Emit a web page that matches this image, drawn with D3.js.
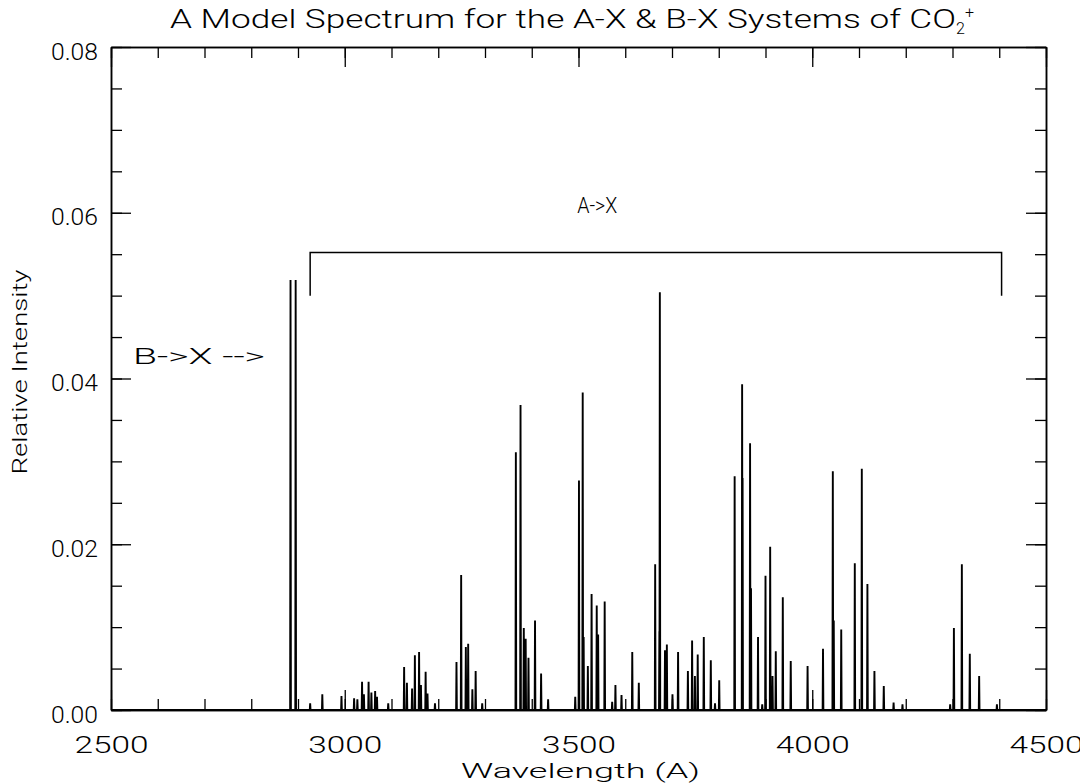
<!DOCTYPE html>
<html>
<head>
<meta charset="utf-8">
<script src="https://cdn.jsdelivr.net/npm/d3@7"></script>
<style>
  body { margin: 0; background: #fff; }
  text { font-family: Roboto, "Liberation Sans", sans-serif; font-weight: 300; fill: #000; }
</style>
</head>
<body>
<script>
// line positions (Angstrom) and relative intensities
var wavelengths = [2884, 2895, 2926, 2952, 2993, 3020, 3027, 3037, 3041, 3051, 3057, 3065, 3069, 3093,
  3127, 3133, 3144, 3150, 3159, 3163, 3173, 3177, 3193, 3239, 3249, 3259, 3264, 3273, 3280, 3294,
  3366, 3376, 3383, 3387, 3393, 3407, 3420, 3435, 3493, 3501, 3509, 3511, 3520, 3528, 3539, 3542,
  3556, 3572, 3579, 3592, 3615, 3629, 3664, 3673, 3674, 3685, 3689, 3701, 3713, 3734, 3743, 3749,
  3755, 3768, 3783, 3792, 3801, 3834, 3850, 3851, 3867, 3869, 3884, 3893, 3900, 3910, 3915, 3922,
  3937, 3954, 3990, 4023, 4044, 4046, 4062, 4091, 4106, 4118, 4133, 4153, 4174, 4193, 4295, 4303,
  4320, 4337, 4357, 4395];
var intensities = [0.0519, 0.0519, 0.0008, 0.0019, 0.0017, 0.0014, 0.0013, 0.0034, 0.0019, 0.0034, 0.0021, 0.0023, 0.0016, 0.0008,
  0.0052, 0.0033, 0.0026, 0.0066, 0.0070, 0.0030, 0.0046, 0.0020, 0.0008, 0.0058, 0.0163, 0.0076, 0.0080, 0.0025, 0.0047, 0.0008,
  0.0311, 0.0368, 0.0099, 0.0086, 0.0063, 0.0108, 0.0044, 0.0013, 0.0016, 0.0277, 0.0383, 0.0088, 0.0053, 0.0140, 0.0126, 0.0091,
  0.0131, 0.0010, 0.0030, 0.0018, 0.0070, 0.0033, 0.0176, 0.0095, 0.0504, 0.0072, 0.0079, 0.0019, 0.0070, 0.0047, 0.0084, 0.0041,
  0.0067, 0.0088, 0.0060, 0.0008, 0.0036, 0.0282, 0.0393, 0.0280, 0.0322, 0.0147, 0.0088, 0.0007, 0.0162, 0.0197, 0.0041, 0.0071,
  0.0136, 0.0059, 0.0053, 0.0074, 0.0288, 0.0108, 0.0097, 0.0177, 0.0291, 0.0152, 0.0047, 0.0029, 0.0009, 0.0007, 0.0007, 0.0099,
  0.0176, 0.0068, 0.0041, 0.0007];

var xTicks = [2500, 3000, 3500, 4000, 4500];
var yTicks = [0, 0.02, 0.04, 0.06, 0.08];
// A->X bracket: start, end wavelength, top and foot heights
var bracketX = [2926, 4405];
var bracketY = [0.0552, 0.0500];

var W = 1080, H = 783;
var margin = {top: 47, right: 34, bottom: 73, left: 111};
var width = W - margin.left - margin.right;
var height = H - margin.top - margin.bottom;

var svg = d3.select("body").append("svg")
  .attr("width", W)
  .attr("height", H);

var g = svg.append("g")
  .attr("transform", "translate(" + margin.left + "," + margin.top + ")");

var x = d3.scaleLinear().domain([2500, 4500]).range([0, width]);
var y = d3.scaleLinear().domain([0, 0.08]).range([height, 0]);

var minorX = d3.range(2500, 4501, 100);
var minorY = d3.range(0, 0.0801, 0.005);

// spectrum as one path of narrow spikes
var pts = [[2500, 0]];
wavelengths.forEach(function(w, i) {
  pts.push([w - 0.8, 0], [w, intensities[i]], [w + 0.8, 0]);
});
pts.push([4500, 0]);

g.append("path")
  .datum(pts)
  .attr("fill", "none")
  .attr("stroke", "#000")
  .attr("stroke-width", 1.9)
  .attr("d", d3.line().x(function(d){ return x(d[0]); }).y(function(d){ return y(d[1]); }));

// axes, ticks pointing inward on all four sides
function styleAxis(sel) {
  sel.selectAll("path.domain").attr("stroke", "#000").attr("stroke-width", 1.5);
  sel.selectAll(".tick line").attr("stroke", "#000").attr("stroke-width", 1.3);
}

var bottom = g.append("g").attr("transform", "translate(0," + height + ")")
  .call(d3.axisBottom(x).tickValues(xTicks).tickSizeInner(-20).tickSizeOuter(0)
    .tickPadding(26).tickFormat(d3.format("d")));
bottom.selectAll("text").attr("font-size", 24).attr("textLength", 74).attr("lengthAdjust", "spacingAndGlyphs");
styleAxis(bottom);
styleAxis(g.append("g").attr("transform", "translate(0," + height + ")")
  .call(d3.axisBottom(x).tickValues(minorX).tickSizeInner(-11).tickSizeOuter(0).tickFormat("")));

styleAxis(g.append("g")
  .call(d3.axisTop(x).tickValues(xTicks).tickSizeInner(-20).tickSizeOuter(0).tickFormat("")));
styleAxis(g.append("g")
  .call(d3.axisTop(x).tickValues(minorX).tickSizeInner(-11).tickSizeOuter(0).tickFormat("")));

var left = g.append("g")
  .call(d3.axisLeft(y).tickValues(yTicks).tickSizeInner(-20).tickSizeOuter(0)
    .tickPadding(13).tickFormat(d3.format(".2f")));
left.selectAll("text").attr("font-size", 24).attr("dy", "0.5em")
  .attr("textLength", 47).attr("lengthAdjust", "spacingAndGlyphs");
styleAxis(left);
styleAxis(g.append("g")
  .call(d3.axisLeft(y).tickValues(minorY).tickSizeInner(-11).tickSizeOuter(0).tickFormat("")));

styleAxis(g.append("g").attr("transform", "translate(" + width + ",0)")
  .call(d3.axisRight(y).tickValues(yTicks).tickSizeInner(-20).tickSizeOuter(0).tickFormat("")));
styleAxis(g.append("g").attr("transform", "translate(" + width + ",0)")
  .call(d3.axisRight(y).tickValues(minorY).tickSizeInner(-11).tickSizeOuter(0).tickFormat("")));

g.selectAll(".tick text").attr("font-family", "Roboto, 'Liberation Sans', sans-serif").attr("fill", "#000");

// A->X bracket
g.append("path")
  .attr("fill", "none")
  .attr("stroke", "#000")
  .attr("stroke-width", 1.5)
  .attr("d", d3.line()([
    [x(bracketX[0]), y(bracketY[1])],
    [x(bracketX[0]), y(bracketY[0])],
    [x(bracketX[1]), y(bracketY[0])],
    [x(bracketX[1]), y(bracketY[1])]
  ]));

g.append("text")
  .attr("x", x(3540)).attr("y", y(0.061))
  .attr("dy", "0.38em")
  .attr("text-anchor", "middle")
  .attr("font-size", 22)
  .attr("textLength", 40).attr("lengthAdjust", "spacingAndGlyphs")
  .text("A->X");

g.append("text")
  .attr("x", x(2547)).attr("y", y(0.0428))
  .attr("dy", "0.38em")
  .attr("font-size", 22)
  .attr("textLength", 132).attr("lengthAdjust", "spacingAndGlyphs")
  .text("B->X -->");

// titles
var title = svg.append("text")
  .attr("x", 170).attr("y", 28)
  .attr("font-size", 25);
title.append("tspan")
  .attr("textLength", 786).attr("lengthAdjust", "spacingAndGlyphs")
  .text("A Model Spectrum for the A-X & B-X Systems of CO");
title.append("tspan")
  .attr("font-size", 16).attr("dy", 6)
  .text("2");
title.append("tspan")
  .attr("font-size", 16).attr("dy", -16)
  .text("+");

svg.append("text")
  .attr("x", margin.left + width / 2 + 2).attr("y", 778)
  .attr("text-anchor", "middle")
  .attr("font-size", 21)
  .attr("textLength", 239).attr("lengthAdjust", "spacingAndGlyphs")
  .text("Wavelength (A)");

svg.append("text")
  .attr("transform", "translate(27,372) rotate(-90)")
  .attr("text-anchor", "middle")
  .attr("font-size", 21)
  .attr("textLength", 205).attr("lengthAdjust", "spacingAndGlyphs")
  .text("Relative Intensity");
</script>
</body>
</html>
